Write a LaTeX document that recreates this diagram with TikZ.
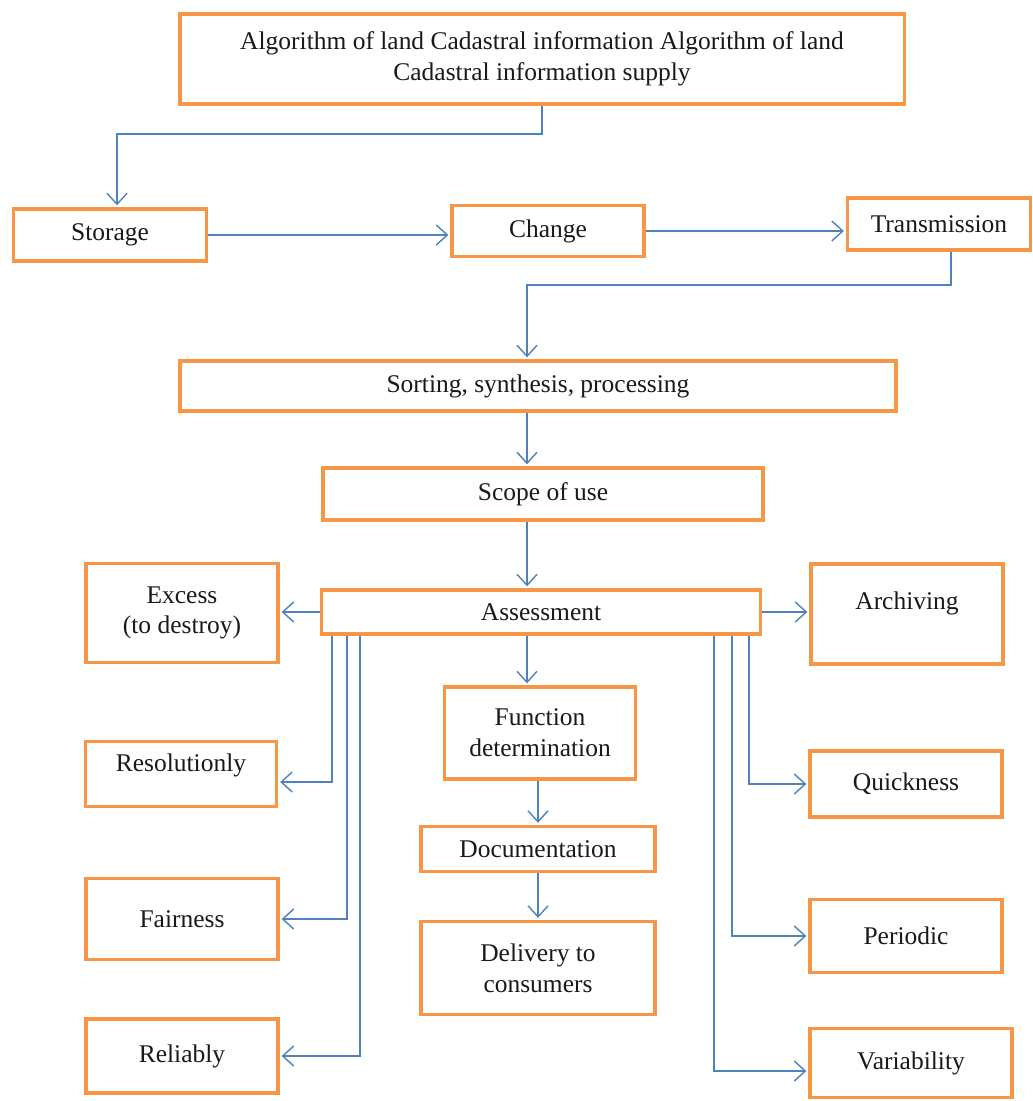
\documentclass[tikz,border=0pt]{standalone}
\usepackage{fontspec}
\setmainfont{Liberation Serif}
\usetikzlibrary{arrows.meta}
\definecolor{boxorange}{RGB}{247,150,70}
\definecolor{flowblue}{RGB}{79,129,189}
\begin{document}
\begin{tikzpicture}[x=0.02cm,y=-0.02cm,>={Straight Barb[length=2.2mm,width=4mm]},
	box/.style={draw=boxorange,line width=2.2pt,align=center,inner sep=2pt,
		font=\fontsize{14.5}{17.5}\selectfont,text=black!90},
	flow/.style={->,draw=flowblue,line width=0.8pt,shorten >=1pt}]
	\useasboundingbox (0,0) rectangle (1033,1101);
	% boxes
	\node[box,minimum width=14.5cm,minimum height=1.8cm] (algo) at (542,59) {Algorithm of land Cadastral information Algorithm of land\\Cadastral information supply};
	\node[box,minimum width=3.86cm,minimum height=1.04cm] (storage) at (110,235) {Storage};
	\node[box,minimum width=3.84cm,minimum height=1.02cm] (change) at (548,231) {Change};
	\node[box,minimum width=3.66cm,minimum height=1.04cm] (trans) at (939,224) {Transmission};
	\node[box,minimum width=14.32cm,minimum height=1.0cm] (sorting) at (538,386) {Sorting, synthesis, processing};
	\node[box,minimum width=8.8cm,minimum height=1.04cm] (scope) at (543,494) {Scope of use};
	\node[box,minimum width=8.78cm,minimum height=0.88cm] (assess) at (541,612) {Assessment};
	\node[box,minimum width=3.84cm,minimum height=1.98cm] (excess) at (182,613) {Excess\\(to destroy)};
	\node[box,minimum width=3.84cm,minimum height=2.0cm,text height=0.35cm,text depth=0.55cm] (archive) at (907,614) {Archiving};
	\node[box,minimum width=3.82cm,minimum height=1.84cm] (func) at (540,733) {Function\\determination};
	\node[box,minimum width=4.68cm,minimum height=0.9cm] (doc) at (538,849) {Documentation};
	\node[box,minimum width=4.68cm,minimum height=1.86cm] (deliv) at (538,968) {Delivery to\\consumers};
	\node[box,minimum width=3.82cm,minimum height=1.3cm,text height=0.35cm,text depth=0.46cm] (resol) at (181,774) {Resolutionly};
	\node[box,minimum width=3.84cm,minimum height=1.62cm] (fair) at (182,919) {Fairness};
	\node[box,minimum width=3.84cm,minimum height=1.48cm] (reli) at (182,1056) {Reliably};
	\node[box,minimum width=3.84cm,minimum height=1.32cm] (quick) at (906,784) {Quickness};
	\node[box,minimum width=3.84cm,minimum height=1.46cm] (period) at (906,936) {Periodic};
	\node[box,minimum width=4.04cm,minimum height=1.38cm] (variab) at (911,1063) {Variability};
	% branch lines
	\coordinate (spine) at (527,0);
	\coordinate (l1) at (332,0);
	\coordinate (l2) at (347,0);
	\coordinate (l3) at (360,0);
	\coordinate (r1) at (749,0);
	\coordinate (r2) at (732,0);
	\coordinate (r3) at (714,0);
	% connectors
	\draw[flow] (algo.south) -- ++(0,28) -| ([xshift=0.14cm]storage.north);
	\draw[flow] (storage.east) -- (storage.east -| change.west);
	\draw[flow] (change.east) -- (change.east -| trans.west);
	\draw[flow] ([xshift=0.24cm]trans.south) -- ++(0,33) -| (sorting.north -| spine);
	\draw[flow] (sorting.south -| spine) -- (scope.north -| spine);
	\draw[flow] (scope.south -| spine) -- (assess.north -| spine);
	\draw[flow] (assess.west) -- (assess.west -| excess.east);
	\draw[flow] (assess.east) -- (assess.east -| archive.west);
	\draw[flow] (assess.south -| spine) -- (func.north -| spine);
	\draw[flow] (func.south -| doc) -- (doc.north);
	\draw[flow] (doc.south) -- (deliv.north);
	\draw[flow] (assess.south -| l1) |- ([yshift=-0.16cm]resol.east);
	\draw[flow] (assess.south -| l2) |- (fair.east);
	\draw[flow] (assess.south -| l3) |- (reli.east);
	\draw[flow] (assess.south -| r1) |- (quick.west);
	\draw[flow] (assess.south -| r2) |- (period.west);
	\draw[flow] (assess.south -| r3) |- ([yshift=-0.16cm]variab.west);
\end{tikzpicture}
\end{document}
